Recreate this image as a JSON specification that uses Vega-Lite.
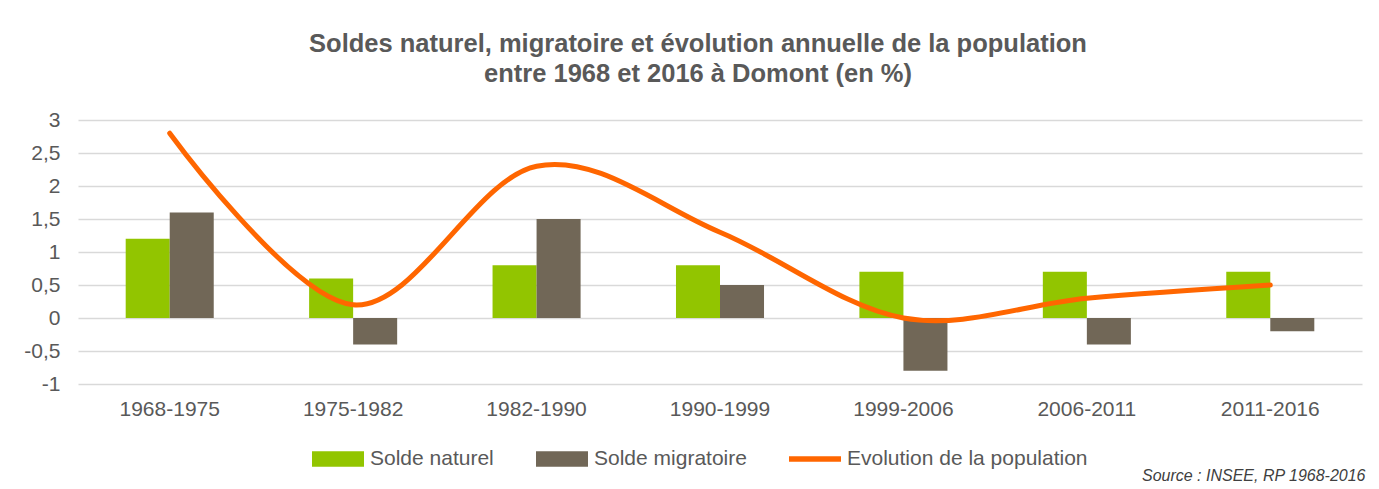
{
  "$schema": "https://vega.github.io/schema/vega-lite/v6.json",
  "autosize": {"type": "none"},
  "width": 1284,
  "height": 264,
  "padding": {"left": 78, "top": 120, "right": 17, "bottom": 105},
  "background": "white",
  "config": {
    "view": {"stroke": null},
    "font": "Liberation Sans"
  },
  "title": {
    "text": ["Soldes naturel, migratoire et évolution annuelle de la population", "entre 1968 et 2016 à Domont (en %)"],
    "font": "Liberation Sans",
    "fontSize": 25.5,
    "fontWeight": "bold",
    "color": "#595959",
    "anchor": "middle",
    "frame": "group",
    "dx": -22,
    "lineHeight": 30,
    "offset": 22
  },
  "data": {
    "values": [
      {"periode": "1968-1975", "serie": "Solde naturel", "valeur": 1.2},
      {"periode": "1975-1982", "serie": "Solde naturel", "valeur": 0.6},
      {"periode": "1982-1990", "serie": "Solde naturel", "valeur": 0.8},
      {"periode": "1990-1999", "serie": "Solde naturel", "valeur": 0.8},
      {"periode": "1999-2006", "serie": "Solde naturel", "valeur": 0.7},
      {"periode": "2006-2011", "serie": "Solde naturel", "valeur": 0.7},
      {"periode": "2011-2016", "serie": "Solde naturel", "valeur": 0.7},
      {"periode": "1968-1975", "serie": "Solde migratoire", "valeur": 1.6},
      {"periode": "1975-1982", "serie": "Solde migratoire", "valeur": -0.4},
      {"periode": "1982-1990", "serie": "Solde migratoire", "valeur": 1.5},
      {"periode": "1990-1999", "serie": "Solde migratoire", "valeur": 0.5},
      {"periode": "1999-2006", "serie": "Solde migratoire", "valeur": -0.8},
      {"periode": "2006-2011", "serie": "Solde migratoire", "valeur": -0.4},
      {"periode": "2011-2016", "serie": "Solde migratoire", "valeur": -0.2},
      {"periode": "1968-1975", "serie": "Evolution de la population", "valeur": 2.8},
      {"periode": "1975-1982", "serie": "Evolution de la population", "valeur": 0.2},
      {"periode": "1982-1990", "serie": "Evolution de la population", "valeur": 2.3},
      {"periode": "1990-1999", "serie": "Evolution de la population", "valeur": 1.3},
      {"periode": "1999-2006", "serie": "Evolution de la population", "valeur": 0.0},
      {"periode": "2006-2011", "serie": "Evolution de la population", "valeur": 0.3},
      {"periode": "2011-2016", "serie": "Evolution de la population", "valeur": 0.5}
    ]
  },
  "encoding": {
    "x": {
      "field": "periode",
      "type": "nominal",
      "sort": null,
      "scale": {"paddingInner": 0.52, "paddingOuter": 0.26},
      "axis": {
        "labelAngle": 0,
        "domain": false,
        "ticks": false,
        "grid": false,
        "labelPadding": 14,
        "labelFontSize": 21,
        "labelColor": "#595959",
        "labelFont": "Liberation Sans",
        "title": "Source : INSEE, RP 1968-2016",
        "titleFont": "Liberation Sans",
        "titleFontSize": 16,
        "titleFontStyle": "italic",
        "titleFontWeight": "normal",
        "titleColor": "#404040",
        "titleAlign": "right",
        "titleBaseline": "alphabetic",
        "titleX": 1287,
        "titleY": 96
      }
    },
    "y": {
      "field": "valeur",
      "type": "quantitative",
      "scale": {"domain": [-1, 3], "nice": false, "zero": false},
      "axis": {
        "values": [-1, -0.5, 0, 0.5, 1, 1.5, 2, 2.5, 3],
        "labelExpr": "replace(toString(datum.value), '.', ',')",
        "domain": false,
        "ticks": false,
        "grid": true,
        "gridColor": "#D9D9D9",
        "gridWidth": 1.5,
        "labelPadding": 18,
        "labelFontSize": 21,
        "labelColor": "#595959",
        "labelFont": "Liberation Sans",
        "title": null
      }
    },
    "color": {
      "field": "serie",
      "type": "nominal",
      "scale": {
        "domain": ["Solde naturel", "Solde migratoire", "Evolution de la population"],
        "range": ["#92C500", "#716757", "#FF6600"]
      },
      "legend": {
        "title": null,
        "orient": "none",
        "direction": "horizontal",
        "legendX": 234,
        "legendY": 313,
        "padding": 0,
        "symbolSize": 2704,
        "symbolType": "M-1,-0.3H1V0.3H-1Z",
        "symbolStrokeWidth": 0,
        "symbolOpacity": 1,
        "labelFont": "Liberation Sans",
        "labelFontSize": 21,
        "labelColor": "#595959",
        "labelOffset": 6,
        "labelLimit": 400,
        "columnPadding": 42,
        "encode": {
          "symbols": {
            "update": {
              "shape": {"signal": "datum.value === 'Evolution de la population' ? 'M-1,-0.11H1V0.11H-1Z' : 'M-1,-0.3H1V0.3H-1Z'"},
              "fill": {"signal": "scale('color', datum.value)"},
              "fillOpacity": {"value": 1},
              "strokeWidth": {"value": 0}
            }
          }
        }
      }
    }
  },
  "layer": [
    {
      "transform": [{"filter": "datum.serie !== 'Evolution de la population'"}],
      "mark": {"type": "bar"},
      "encoding": {
        "xOffset": {
          "field": "serie",
          "type": "nominal",
          "scale": {"domain": ["Solde naturel", "Solde migratoire"], "paddingInner": 0, "paddingOuter": 0}
        }
      }
    },
    {
      "transform": [{"filter": "datum.serie === 'Evolution de la population'"}],
      "mark": {"type": "line", "interpolate": "cardinal", "strokeWidth": 5, "strokeCap": "round"},
      "encoding": {}
    }
  ]
}
